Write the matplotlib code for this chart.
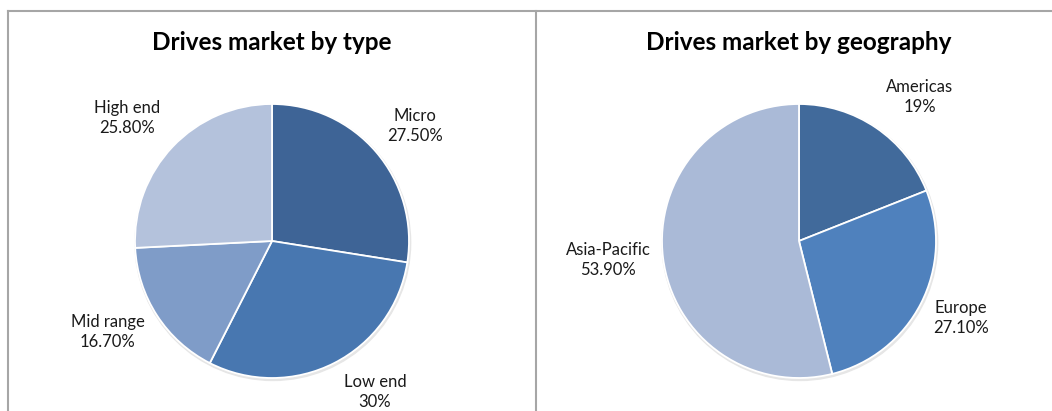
import numpy as np
import matplotlib.pyplot as plt
from matplotlib.lines import Line2D
from matplotlib.patches import Circle

plt.rcParams['font.family'] = ['Lato', 'DejaVu Sans']

# data
type_labels = ['Micro', 'Low end', 'Mid range', 'High end']
type_values = [27.5, 30.0, 16.7, 25.8]
type_text = ['27.50%', '30%', '16.70%', '25.80%']
type_colors = ['#3e6496', '#4877b0', '#7f9cc8', '#b4c2dc']

geo_labels = ['Americas', 'Europe', 'Asia-Pacific']
geo_values = [19.0, 27.1, 53.9]
geo_text = ['19%', '27.10%', '53.90%']
geo_colors = ['#416a9b', '#4f81bd', '#aabad7']

W, H = 1052, 411
R = 137.0  # pie radius in px

fig = plt.figure(figsize=(W / 100, H / 100), dpi=100)


def panel(x0, x1, cx, cy, title, labels, values, texts, colors, lpos):
    # axes spans from x0..x1 px, from top line (y=11) to bottom
    top, bottom = 11, H
    ax = fig.add_axes([x0 / W, 0, (x1 - x0) / W, (H - top) / H])
    ax.axis('off')
    # faint shadow
    ax.add_patch(Circle((0.006, -0.012), 1.006, color='#e6e6e6', zorder=0))
    wedges, _ = ax.pie(values, colors=colors, startangle=90, counterclock=False,
                       wedgeprops=dict(edgecolor='white', linewidth=1.3))
    ax.set_aspect('auto')
    ax.set_xlim(-(cx - x0) / R, (x1 - cx) / R)
    ax.set_ylim(-(bottom - cy) / R, (cy - top) / R)
    for w, lab, txt, (d, da) in zip(wedges, labels, texts, lpos):
        ang = np.deg2rad((w.theta1 + w.theta2) / 2 + da)
        ax.text(d * np.cos(ang), d * np.sin(ang), lab + '\n' + txt,
                ha='center', va='center', fontsize=12, color='#1a1a1a',
                linespacing=1.35)
    ax.text(0, (cy - 42) / R, title, ha='center', va='center',
            fontsize=17.5, fontweight='bold', color='black')
    return ax


panel(8, 536, 272, 241, 'Drives market by type', type_labels, type_values,
      type_text, type_colors, [(1.34, -1.7), (1.335, 7.3), (1.37, -4), (1.39, 3.3)])
panel(536, W, 799, 241, 'Drives market by geography', geo_labels, geo_values,
      geo_text, geo_colors, [(1.37, -5.8), (1.31, 1.8), (1.40, -1.3)])

# frame lines
lc = '#a6a6a6'
fig.add_artist(Line2D([8 / W, 1], [1 - 11 / H, 1 - 11 / H], color=lc, lw=1.5))
fig.add_artist(Line2D([8 / W, 8 / W], [0, 1 - 11 / H], color=lc, lw=1.5))
fig.add_artist(Line2D([536 / W, 536 / W], [0, 1 - 11 / H], color=lc, lw=1.5))

fig.savefig('out.png', dpi=100)
